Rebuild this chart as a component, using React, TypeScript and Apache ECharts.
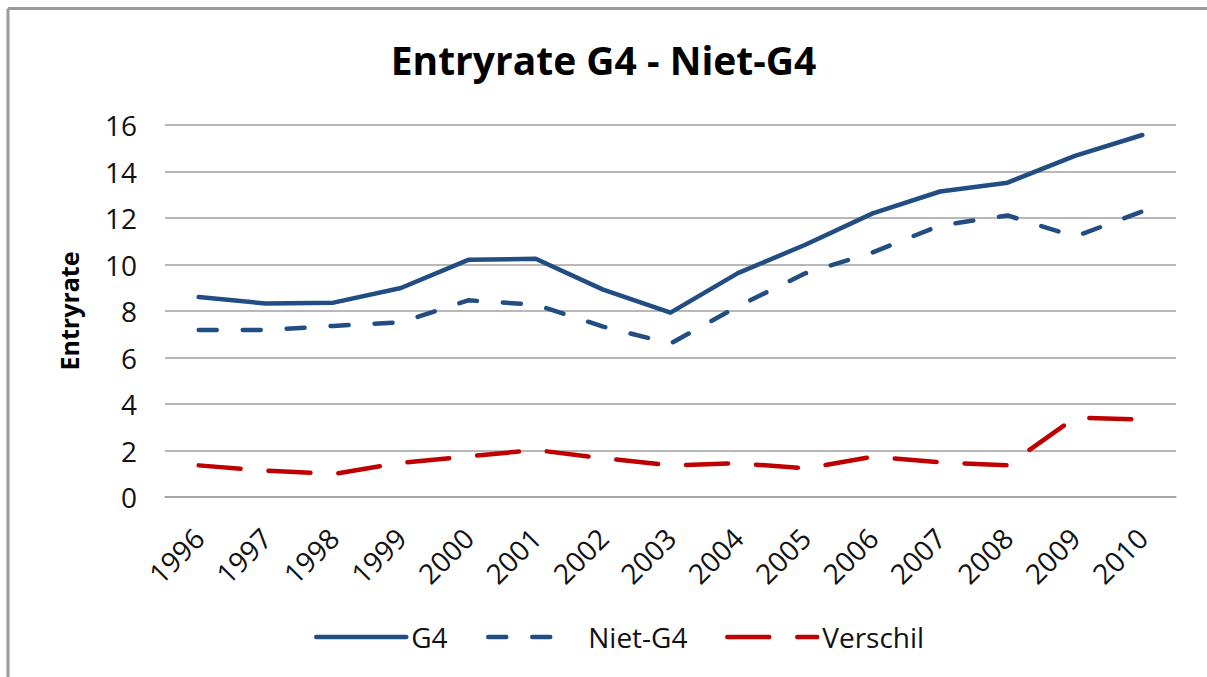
import React, { useEffect, useRef } from 'react';
import * as echarts from 'echarts';

const years = ['1996', '1997', '1998', '1999', '2000', '2001', '2002', '2003', '2004', '2005', '2006', '2007', '2008', '2009', '2010'];
const g4 = [8.6, 8.32, 8.36, 8.99, 10.2, 10.25, 8.92, 7.93, 9.63, 10.85, 12.2, 13.14, 13.52, 14.67, 15.57];
const nietG4 = [7.18, 7.18, 7.36, 7.51, 8.46, 8.27, 7.33, 6.6, 8.2, 9.62, 10.52, 11.68, 12.11, 11.2, 12.28];
const verschil = [1.36, 1.13, 0.99, 1.47, 1.75, 2.02, 1.67, 1.36, 1.45, 1.23, 1.73, 1.49, 1.36, 3.41, 3.33];

const titleText = 'Entryrate G4 - Niet-G4';
const yAxisName = 'Entryrate';
const seriesNames = ['G4', 'Niet-G4', 'Verschil'];

const BLUE = '#214D82';
const RED = '#C00000';
const FONT = 'Open Sans';

export default function App() {
  const ref = useRef<HTMLDivElement>(null);
  useEffect(() => {
    if (!ref.current) return;
    const chart = echarts.init(ref.current, null, { renderer: 'svg' });
    const legendCommon = {
      itemWidth: 90,
      itemHeight: 14,
      top: 618,
      textStyle: { fontSize: 28, color: '#111', fontFamily: FONT },
      lineStyle: { width: 4.5 },
      itemStyle: { color: 'transparent', borderWidth: 0, opacity: 0 },
    };
    chart.setOption({
      animation: false,
      backgroundColor: '#fff',
      textStyle: { fontFamily: FONT },
      title: {
        text: titleText,
        left: 'center',
        top: 35,
        textStyle: { fontSize: 39, fontWeight: 'bold', color: '#000', fontFamily: FONT },
      },
      grid: { left: 165, right: 31, top: 125, bottom: 180, containLabel: false },
      xAxis: {
        type: 'category',
        data: years,
        boundaryGap: true,
        axisLine: { show: true, lineStyle: { color: '#a0a0a0', width: 1.5 } },
        axisTick: { show: false },
        axisLabel: { rotate: 45, fontSize: 28, color: '#111', margin: 36, fontFamily: FONT },
      },
      yAxis: {
        type: 'value',
        min: 0,
        max: 16,
        interval: 2,
        name: yAxisName,
        nameLocation: 'middle',
        nameGap: 84,
        nameRotate: 90,
        nameTextStyle: { fontSize: 25, fontWeight: 'bold', color: '#000', fontFamily: FONT },
        axisLine: { show: false },
        axisTick: { show: false },
        axisLabel: { fontSize: 28, color: '#111', margin: 28, fontFamily: FONT },
        splitLine: { show: true, lineStyle: { color: '#a0a0a0', width: 1.5 } },
      },
      legend: [
        { ...legendCommon, left: 309, data: [seriesNames[0]] },
        {
          ...legendCommon,
          left: 481,
          itemWidth: 66,
          textStyle: { ...legendCommon.textStyle, padding: [0, 0, 0, 29] },
          data: [seriesNames[1]],
        },
        { ...legendCommon, left: 720, data: [seriesNames[2]] },
      ],
      graphic: [
        { type: 'line', shape: { x1: 8, y1: 8.5, x2: 1207, y2: 8.5 }, style: { stroke: '#9a9a9a', lineWidth: 3 } },
        { type: 'line', shape: { x1: 8, y1: 8.5, x2: 8, y2: 677 }, style: { stroke: '#9a9a9a', lineWidth: 3 } },
      ],
      series: [
        {
          name: seriesNames[0],
          type: 'line',
          data: g4,
          symbol: 'none',
          itemStyle: { color: BLUE },
          lineStyle: { color: BLUE, width: 4.5, cap: 'round', join: 'round' },
        },
        {
          name: seriesNames[1],
          type: 'line',
          data: nietG4,
          symbol: 'none',
          itemStyle: { color: BLUE },
          lineStyle: { color: BLUE, width: 4.5, type: [18, 26], cap: 'round', join: 'round' },
        },
        {
          name: seriesNames[2],
          type: 'line',
          data: verschil,
          symbol: 'none',
          itemStyle: { color: RED },
          lineStyle: { color: RED, width: 4.5, type: [42, 28], cap: 'round', join: 'round' },
        },
      ],
    });
    return () => chart.dispose();
  }, []);
  return (
    <div
      ref={ref}
      style={{ position: 'fixed', left: 0, top: 0, width: 1207, height: 677, background: '#fff' }}
    />
  );
}
